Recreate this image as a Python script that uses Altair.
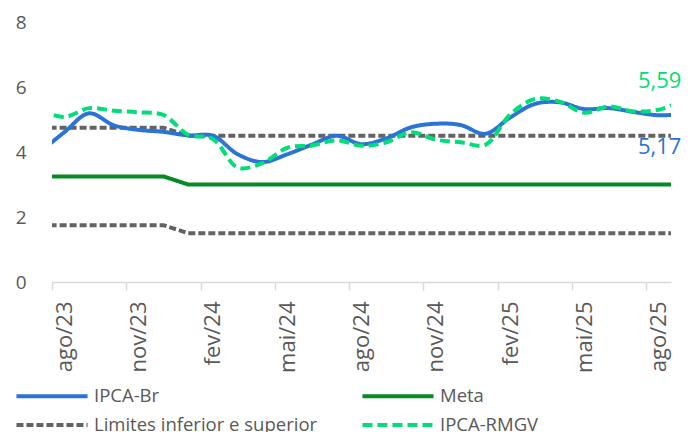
import altair as alt
import pandas as pd

# ---------------- data ----------------
months = ["jul/23", "ago/23", "set/23", "out/23", "nov/23", "dez/23",
          "jan/24", "fev/24", "mar/24", "abr/24", "mai/24", "jun/24",
          "jul/24", "ago/24", "set/24", "out/24", "nov/24", "dez/24",
          "jan/25", "fev/25", "mar/25", "abr/25", "mai/25", "jun/25",
          "jul/25", "ago/25", "set/25"]

ipca_br = [3.99, 4.61, 5.19, 4.82, 4.68, 4.62,
           4.51, 4.50, 3.93, 3.69, 3.93, 4.23,
           4.50, 4.24, 4.42, 4.76, 4.87, 4.83,
           4.56, 5.06, 5.48, 5.53, 5.32, 5.35,
           5.23, 5.13, 5.17]

ipca_rmgv = [5.28, 5.08, 5.35, 5.27, 5.22, 5.14,
             4.53, 4.40, 3.52, 3.66, 4.13, 4.20,
             4.36, 4.19, 4.30, 4.61, 4.38, 4.30,
             4.22, 5.15, 5.63, 5.55, 5.21, 5.40,
             5.25, 5.30, 5.59]

meta = [3.25, 3.25, 3.25, 3.25, 3.25, 3.25,
        3.0, 3.0, 3.0, 3.0, 3.0, 3.0,
        3.0, 3.0, 3.0, 3.0, 3.0, 3.0,
        3.0, 3.0, 3.0, 3.0, 3.0, 3.0,
        3.0, 3.0, 3.0]

lim_sup = [4.75, 4.75, 4.75, 4.75, 4.75, 4.75,
           4.5, 4.5, 4.5, 4.5, 4.5, 4.5,
           4.5, 4.5, 4.5, 4.5, 4.5, 4.5,
           4.5, 4.5, 4.5, 4.5, 4.5, 4.5,
           4.5, 4.5, 4.5]

lim_inf = [1.75, 1.75, 1.75, 1.75, 1.75, 1.75,
           1.5, 1.5, 1.5, 1.5, 1.5, 1.5,
           1.5, 1.5, 1.5, 1.5, 1.5, 1.5,
           1.5, 1.5, 1.5, 1.5, 1.5, 1.5,
           1.5, 1.5, 1.5]

tick_labels = ["ago/23", "nov/23", "fev/24", "mai/24", "ago/24",
               "nov/24", "fev/25", "mai/25", "ago/25"]

series_names = ["IPCA-Br", "Meta", "Limites inferior e superior", "IPCA-RMGV"]
series_colors = ["#2B74D6", "#068A25", "#636363", "#00DE78"]

# ---------------- table ----------------
rows = []
for i, m in enumerate(months):
    pos = i - 0.5  # mid-month position; ago/23 category spans [0, 1]
    rows.append(dict(month=m, pos=pos, value=ipca_br[i], series="IPCA-Br", line="br"))
    rows.append(dict(month=m, pos=pos, value=ipca_rmgv[i], series="IPCA-RMGV", line="rmgv"))
    rows.append(dict(month=m, pos=pos, value=meta[i], series="Meta", line="meta"))
    rows.append(dict(month=m, pos=pos, value=lim_sup[i], series="Limites inferior e superior", line="sup"))
    rows.append(dict(month=m, pos=pos, value=lim_inf[i], series="Limites inferior e superior", line="inf"))
df = pd.DataFrame(rows)
df["label"] = df["value"].map(lambda v: f"{v:.2f}".replace(".", ","))

# ---------------- layout ----------------
W, H = 619, 260
n_cat = 25
FONT = "Open Sans"
GREY = "#595959"
half_cat = W / n_cat / 2

label_js = "[" + ",".join(f"'{t}'" for t in tick_labels) + "][datum.value / 3]"

x_enc = alt.X(
    "pos:Q",
    scale=alt.Scale(domain=[0, n_cat], nice=False, zero=False),
    axis=alt.Axis(
        values=list(range(0, n_cat, 3)),
        labelExpr=label_js,
        labelAngle=270,
        labelFontSize=22,
        labelFont=FONT,
        labelColor=GREY,
        labelPadding=11,
        labelOffset=half_cat,
        domainColor="#D9D9D9",
        domainWidth=1.5,
        tickColor="#D9D9D9",
        tickWidth=1.5,
        tickSize=8,
        grid=False,
        title=None,
    ),
)
y_enc = alt.Y(
    "value:Q",
    scale=alt.Scale(domain=[0, 8], nice=False),
    axis=alt.Axis(
        values=[0, 2, 4, 6, 8],
        labelFontSize=19,
        labelFont=FONT,
        labelColor=GREY,
        labelPadding=26,
        ticks=False,
        tickSize=0,
        domain=False,
        grid=False,
        title=None,
    ),
)

# legend symbol: a long horizontal stroke drawn from a custom path
sym_unit = 23.7            # sqrt(symbolSize)
legend = alt.Legend(
    title=None,
    orient="none",
    direction="horizontal",
    legendX=-14,
    legendY=360,
    columns=2,
    columnPadding=36,
    rowPadding=5,
    symbolType="M-3,0L3,0",
    symbolSize=sym_unit ** 2,
    labelOffset=28,
    labelFontSize=18.5,
    labelFont=FONT,
    labelColor=GREY,
    labelLimit=400,
)

color_enc = alt.Color("series:N", scale=alt.Scale(domain=series_names, range=series_colors), legend=legend)
dash_enc = alt.StrokeDash("series:N", scale=alt.Scale(domain=series_names,
                                                       range=[[1, 0], [1, 0], [7, 3], [10, 5]]), legend=legend)
width_enc = alt.StrokeWidth("series:N", scale=alt.Scale(domain=series_names, range=[4, 4, 2.5, 4]), legend=legend)

base = alt.Chart(df).encode(x=x_enc, y=y_enc, color=color_enc, strokeDash=dash_enc,
                            strokeWidth=width_enc, detail="line:N")

straight = base.transform_filter(
    alt.FieldOneOfPredicate(field="series", oneOf=["Meta", "Limites inferior e superior"])
).mark_line(clip=True)

blue = base.transform_filter(alt.datum.series == "IPCA-Br").mark_line(
    interpolate="catmull-rom", clip=True)
green = base.transform_filter(alt.datum.series == "IPCA-RMGV").mark_line(
    interpolate="catmull-rom", clip=True)

last_month = months[-1]
text_base = alt.Chart(df).encode(
    x=alt.X("pos:Q"), y=alt.Y("value:Q"), text="label:N")

txt_green = text_base.transform_filter(
    (alt.datum.series == "IPCA-RMGV") & (alt.datum.month == last_month)
).mark_text(align="right", baseline="middle", dx=-2, dy=-19, fontSize=22, font=FONT, color="#00DE78")

txt_blue = text_base.transform_filter(
    (alt.datum.series == "IPCA-Br") & (alt.datum.month == last_month)
).mark_text(align="right", baseline="middle", dx=-2, dy=33, fontSize=22, font=FONT, color="#2B74D6")

chart = alt.layer(straight, blue, green, txt_green, txt_blue).properties(
    width=W,
    height=H,
    autosize=alt.AutoSizeParams(type="none"),
    padding={"left": 44, "top": 14, "right": 15, "bottom": 150},
    background="white",
).configure_view(stroke=None)

chart.save("out.html", embed_options={"renderer": "svg", "actions": False})
